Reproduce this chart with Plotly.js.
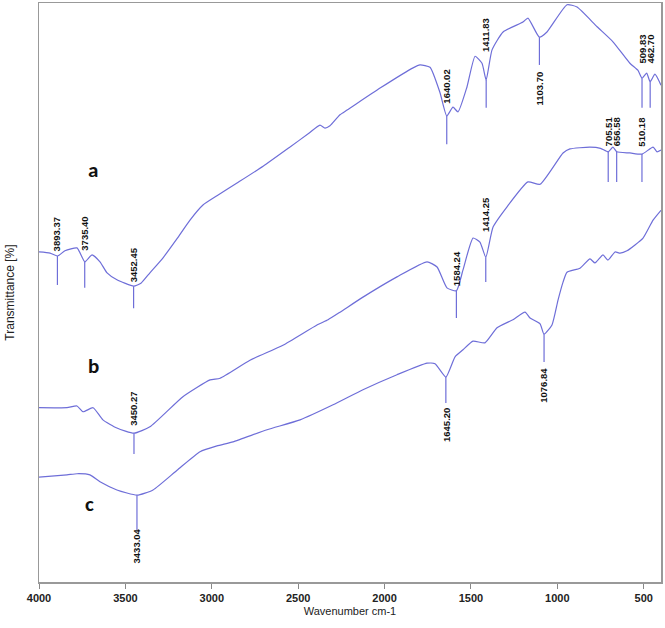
<!DOCTYPE html>
<html>
<head>
<meta charset="utf-8">
<script src="https://cdn.plot.ly/plotly-3.0.1.min.js"></script>
<style>html,body{margin:0;padding:0;background:#fff;}#chart{width:665px;height:628px;}</style>
</head>
<body>
<div id="chart"></div>
<script>
// ---- Data (wavenumber cm-1, relative transmittance, arbitrary offset units) ----
const waveA = [4000,3936,3893,3850,3780,3735,3693,3647,3606,3549,3452,3410,3358,3282,3201,3126,3051,2970,2854,2703,2553,2438,2374,2345,2316,2258,2217,2026,1835,1795,1737,1679,1640,1604,1575,1523,1476,1436,1412,1378,1314,1199,1170,1104,1060,944,886,770,678,580,534,510,483,463,435,400];
const transA = [57.0,56.8,56.3,57.2,57.7,55.3,56.5,55.3,53.4,52.2,51.1,51.6,53.4,56.0,59.3,62.5,65.1,66.7,68.9,71.8,75.0,77.5,78.9,78.4,78.8,80.7,81.5,85.3,88.8,89.3,88.9,84.5,80.5,82.0,81.2,85.5,90.8,89.6,86.7,91.9,95.0,96.7,97.4,94.1,95.0,99.7,99.3,95.9,93.3,89.6,88.4,87.0,87.9,86.4,87.7,85.8];

const waveB = [4000,3838,3780,3745,3687,3630,3549,3450,3358,3167,3010,2952,2779,2588,2391,2327,2258,2125,1928,1754,1696,1639,1584,1546,1488,1448,1414,1372,1291,1170,1100,967,927,811,750,706,678,656,580,510,446,423,400];
const transB = [30.1,30.1,30.4,29.4,30.1,28.0,26.6,25.7,26.8,32.0,34.9,35.2,38.3,40.9,44.4,45.3,46.6,49.2,52.7,55.3,54.4,50.8,50.3,53.9,59.4,58.7,56.1,61.3,64.8,69.1,68.7,74.1,74.8,75.1,74.9,74.3,75.1,74.3,74.1,73.9,75.1,74.3,74.6];

const waveC = [4000,3838,3780,3705,3647,3549,3433,3340,3201,3068,2970,2877,2680,2489,2298,2125,1928,1754,1708,1645,1592,1546,1488,1419,1349,1257,1187,1158,1100,1077,1031,996,967,944,869,811,782,736,707,666,637,597,504,446,400];
const transC = [18.1,18.5,18.7,18.5,17.3,15.9,15.0,15.9,19.3,22.5,23.5,24.2,26.3,28.0,30.6,33.2,35.8,37.8,37.7,35.4,38.9,40.1,41.6,41.3,43.9,45.3,46.6,45.6,44.6,42.8,44.4,48.7,51.8,53.5,54.2,55.8,55.1,56.5,55.6,57.0,56.8,57.2,59.4,62.5,64.2];

// Peak picks: wavenumber, label, dip value, end of marker line
const peaksA = [3893.37,3735.40,3452.45,1640.02,1411.83,1103.70,509.83,462.70];
const peakLabelsA = ["3893.37","3735.40","3452.45","1640.02","1411.83","1103.70","509.83","462.70"];
const peakDipA = [56.3,55.3,51.1,80.5,86.7,94.1,87.0,86.4];
const peakEndA = [51.3,50.8,47.3,75.6,81.9,89.3,81.9,81.9];

const peaksB = [3450.27,1584.24,1414.25,705.51,656.58,510.18];
const peakLabelsB = ["3450.27","1584.24","1414.25","705.51","656.58","510.18"];
const peakDipB = [25.7,50.3,56.1,74.3,74.3,73.9];
const peakEndB = [22.1,45.6,51.8,69.1,69.1,69.1];

const peaksC = [3433.04,1645.20,1076.84];
const peakLabelsC = ["3433.04","1645.20","1076.84"];
const peakDipC = [15.0,35.4,42.8];
const peakEndC = [9.0,30.9,38.0];

const seriesNames = ["a","b","c"];
const xTicks = [4000,3500,3000,2500,2000,1500,1000,500];

// ---- Layout-only settings (label placement) ----
const labelPosA = [{y:57.0,below:false},{y:57.0,below:false},{y:51.6,below:false},{y:82.4,below:false},{y:91.4,below:false},{y:88.4,below:true},{y:89.3,below:false},{y:89.3,below:false}];
const labelPosB = [{y:26.8,below:false},{y:50.9,below:false},{y:60.3,below:false},{y:75.1,below:false},{y:75.1,below:false},{y:75.1,below:false}];
const labelPosC = [{y:9.5,below:true},{y:30.2,below:true},{y:37.1,below:true}];
const seriesLabelPos = [{x:3687,y:71.2},{x:3687,y:37.3},{x:3705,y:13.5}];

const lineColor = '#6e6ed8';

function curve(x, y) {
  return {x:x, y:y, type:'scatter', mode:'lines', line:{color:lineColor, width:1.2, shape:'spline', smoothing:0.5}, hoverinfo:'skip', showlegend:false};
}
function markers(px, dip, end) {
  const x = [], y = [];
  px.forEach((w,i) => { x.push(w,w,null); y.push(dip[i],end[i],null); });
  return {x:x, y:y, type:'scatter', mode:'lines', line:{color:lineColor, width:1.2}, hoverinfo:'skip', showlegend:false};
}
function labels(px, txt, pos) {
  return px.map((w,i) => ({
    x:w, y:pos[i].y, xref:'x', yref:'y', text:txt[i], showarrow:false, textangle:-90,
    xanchor:'center', yanchor: pos[i].below ? 'top' : 'bottom',
    font:{family:'Liberation Sans, Arial, sans-serif', size:9.5, color:'#111', weight:'bold'},
    borderpad:0
  }));
}

const traces = [
  curve(waveA, transA), curve(waveB, transB), curve(waveC, transC),
  markers(peaksA, peakDipA, peakEndA), markers(peaksB, peakDipB, peakEndB), markers(peaksC, peakDipC, peakEndC)
];

const annotations = [].concat(
  labels(peaksA, peakLabelsA, labelPosA),
  labels(peaksB, peakLabelsB, labelPosB),
  labels(peaksC, peakLabelsC, labelPosC),
  seriesNames.map((n,i) => ({x:seriesLabelPos[i].x, y:seriesLabelPos[i].y, xref:'x', yref:'y', text:n, showarrow:false,
    font:{family:'Carlito, Calibri, Liberation Sans, sans-serif', size:21, color:'#111', weight:'bold'}}))
);

const layout = {
  width:665, height:628,
  margin:{l:39, r:4, t:3, b:46},
  paper_bgcolor:'#fff', plot_bgcolor:'#fff',
  showlegend:false,
  xaxis:{
    range:[4000,400], autorange:false,
    tickvals:xTicks, ticktext:xTicks.map(String),
    ticks:'outside', ticklen:5, tickcolor:'#888', tickwidth:1,
    showgrid:false, zeroline:false,
    showline:true, linecolor:'#999', linewidth:1.5, mirror:true,
    tickfont:{family:'Liberation Sans, Arial, sans-serif', size:11, color:'#222', weight:'bold'},
    title:{text:'Wavenumber cm-1', font:{family:'Liberation Sans, Arial, sans-serif', size:11, color:'#222'}, standoff:4}
  },
  yaxis:{
    range:[0,100], autorange:false,
    showticklabels:false, ticks:'', showgrid:false, zeroline:false,
    showline:true, linecolor:'#999', linewidth:1.5, mirror:true,
    title:{text:'Transmittance [%]', font:{family:'Liberation Sans, Arial, sans-serif', size:12, color:'#222'}, standoff:20}
  },
  annotations:annotations
};

Plotly.newPlot('chart', traces, layout, {displayModeBar:false, staticPlot:true});
</script>
</body>
</html>
